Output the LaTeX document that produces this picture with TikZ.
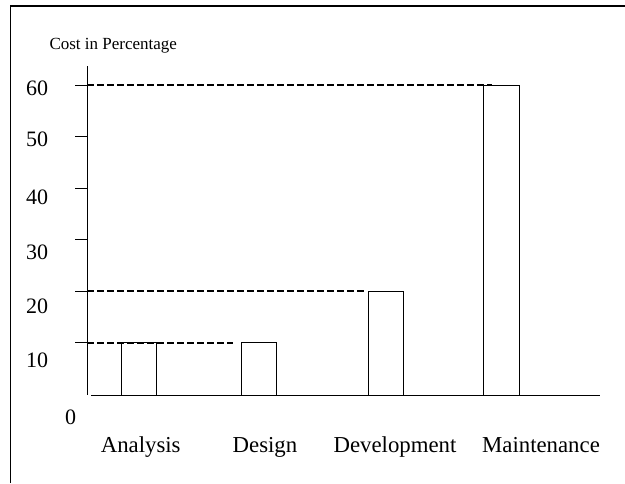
\documentclass[tikz,border=0pt]{standalone}
\usepackage{fontspec}
\setmainfont{Liberation Serif}
\begin{document}
\begin{tikzpicture}[x=1pt,y=-1pt,
  frameline/.style={line width=1.5pt},
  axisline/.style={line width=1pt},
  guide/.style={line width=1.7pt,dash pattern=on 6.5pt off 3.5pt},
  bar/.style={draw,line width=1pt},
  num/.style={font=\fontsize{22}{26}\selectfont,anchor=base west,inner sep=0pt},
  cat/.style={font=\fontsize{22.8}{27}\selectfont,anchor=base,inner sep=0pt}]
\useasboundingbox (0,0) rectangle (625,483);
% frame
\draw[frameline] (10.7,483) -- (10.7,6) -- (625,6);
% title
\node[font=\fontsize{17}{20}\selectfont,anchor=base west,inner sep=0pt] (title) at (49.3,49) {Cost in Percentage};
% axes
\coordinate (ytop) at (87,66);
\coordinate (ybot) at (87,395);
\coordinate (xl) at (91,395.3);
\coordinate (xr) at (600,395.3);
\draw[axisline] (ytop) -- (ybot);
\draw[axisline] (xl) -- (xr);
% ticks
\foreach \yy in {85,136.5,188,239.5,291,342.7}
  \draw[axisline] (75,\yy) -- (87,\yy);
% tick labels
\node[num] (l60) at (26,95) {60};
\node[num] (l50) at (26,146.5) {50};
\node[num] (l40) at (26,204) {40};
\node[num] (l30) at (26,259) {30};
\node[num] (l20) at (26,313.5) {20};
\node[num] (l10) at (26,367.5) {10};
\node[num] (l0) at (65,424) {0};
% bars
\draw[bar] (121.7,395.3) rectangle (156,342.7);
\draw[bar] (241.7,395.3) rectangle (276.3,342.7);
\draw[bar] (368.7,395.3) rectangle (403.3,291);
\draw[bar] (483.7,395.3) rectangle (519,85);
% guides
\draw[guide] (87,85) -- (491.7,85);
\draw[guide] (87,291) -- (365,291);
\draw[guide] (87,342.7) -- (233,342.7);
% category labels
\node[cat] (ana) at (140.7,452.5) {Analysis};
\node[cat] (des) at (265,452.5) {Design};
\node[cat] (dev) at (395,452.5) {Development};
\node[cat] (mai) at (541,452.5) {Maintenance};
\end{tikzpicture}
\end{document}
